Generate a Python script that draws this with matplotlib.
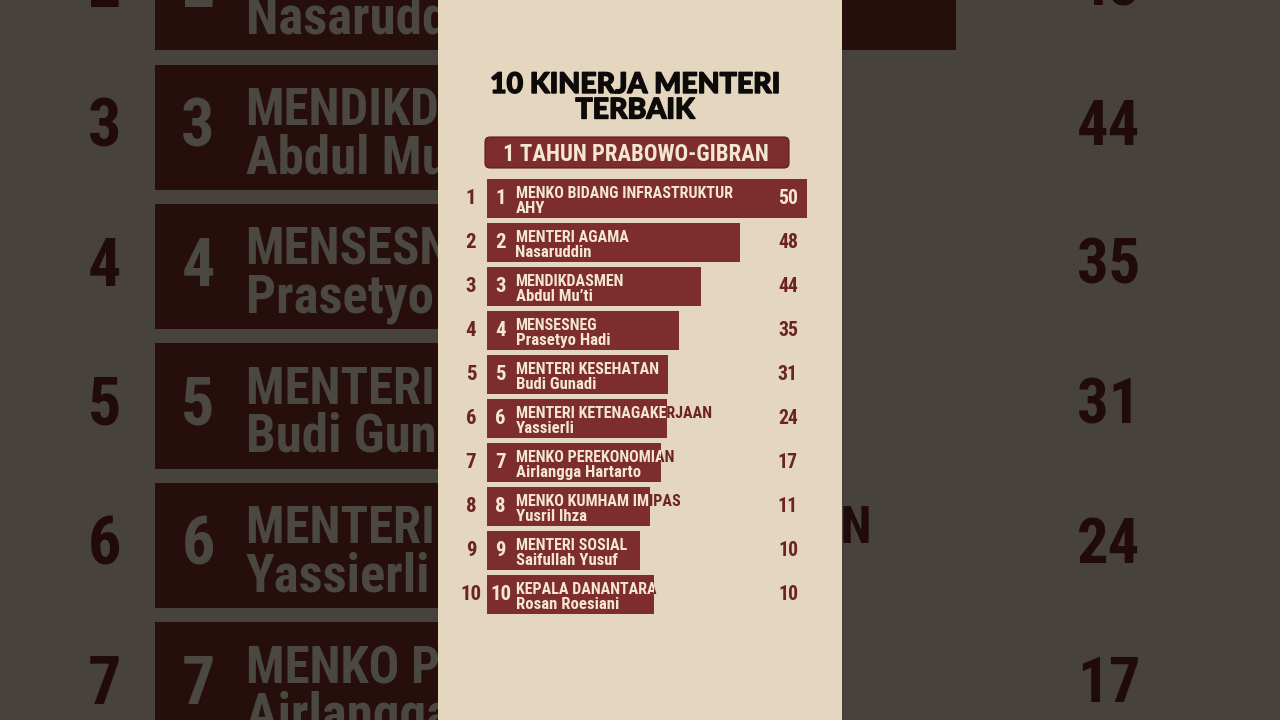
import matplotlib
matplotlib.use("Agg")
import matplotlib.pyplot as plt
import matplotlib.patheffects as pe
from matplotlib import font_manager as fm
from matplotlib.patches import FancyBboxPatch, Rectangle
from matplotlib.transforms import Affine2D

# ---------------- data ----------------
ranks = [1, 2, 3, 4, 5, 6, 7, 8, 9, 10]
positions = ["MENKO BIDANG INFRASTRUKTUR", "MENTERI AGAMA", "MENDIKDASMEN",
             "MENSESNEG", "MENTERI KESEHATAN", "MENTERI KETENAGAKERJAAN",
             "MENKO PEREKONOMIAN", "MENKO KUMHAM IMIPAS", "MENTERI SOSIAL",
             "KEPALA DANANTARA"]
names = ["AHY", "Nasaruddin", "Abdul Mu\u2019ti", "Prasetyo Hadi", "Budi Gunadi",
         "Yassierli", "Airlangga Hartarto", "Yusril Ihza", "Saifullah Yusuf",
         "Rosan Roesiani"]
scores = [50, 48, 44, 35, 31, 24, 17, 11, 10, 10]
# bar lengths as drawn in the graphic (score units; not proportional to scores)
bar_lengths = [50, 39.5, 33.4, 30.0, 28.3, 28.1, 27.2, 25.5, 23.9, 26.1]
title_lines = ["10 KINERJA MENTERI", "TERBAIK"]
subtitle = "1 TAHUN PRABOWO-GIBRAN"

# ---------------- style ----------------
BEIGE = "#E4D6BF"
MAROON = "#7C2D2C"
DARK = "#6C2422"
LIGHT = "#F3E6D2"
INK = "#0D0B0A"

W, H, DPI = 1280, 720, 100
X0, PXV = 487.0, 6.4      # pixel of value 0, pixels per score unit
Y0, PXR = 198.5, 44.0     # pixel of row 0 centre, pixels per row
S = 1280 / 404            # zoom of the darkened background copy


def _w(x):
    if isinstance(x, str):
        return fm.weight_dict.get(x, 400)
    return int(x)


def heaviest(families):
    best = ("DejaVu Sans", 700)
    for fam in families:
        ws = [_w(f.weight) for f in fm.fontManager.ttflist
              if f.name == fam and f.style == "normal"]
        if ws and max(ws) > best[1]:
            best = (fam, max(ws))
    return best


TITLE_FAM, TITLE_W = heaviest(["Lato", "Roboto", "Inter", "Open Sans", "Noto Sans"])
TITLE_FONT = [TITLE_FAM, "DejaVu Sans"]
COND_FONT = ["Roboto Condensed", "Liberation Sans Narrow", "Open Sans Condensed",
             "Roboto", "DejaVu Sans"]


def vx(px):
    return (px - X0) / PXV


def ry(py):
    return (py - Y0) / PXR


fig = plt.figure(figsize=(W / DPI, H / DPI), dpi=DPI)
fig.patch.set_facecolor("#46413A")
renderer = fig.canvas.get_renderer()


def fit(s, target_px, family, weight, stretch="normal", base=20.0):
    t = fig.text(0, 0, s, fontsize=base, family=family, weight=weight,
                 fontstretch=stretch)
    w = t.get_window_extent(renderer).width
    t.remove()
    return base * target_px / w


FS_TITLE = 20.5
FS_SUB = fit(subtitle, 266, COND_FONT, "bold", "condensed")
FS_L1 = fit(positions[0], 219, COND_FONT, "bold", "condensed")
FS_L2 = fit(names[6], 124, COND_FONT, "bold", "condensed")
FS_VAL = fit("48", 20, COND_FONT, "bold", "condensed")
FS_RANK = 15.0


def draw(ax, k):
    rows = list(range(len(ranks)))
    bars = ax.barh(rows, bar_lengths, height=39.5 / PXR, left=0, color=MAROON,
                   zorder=2, linewidth=0)
    ck = dict(family=COND_FONT, weight="bold", fontstretch="condensed")
    for i, bar in enumerate(bars):
        ax.text(vx(471), i + 6 / PXR, str(ranks[i]), ha="center", va="baseline",
                fontsize=FS_RANK * k, color=DARK, zorder=3, **ck)
        ax.text(vx(500.5), i + 6 / PXR, str(ranks[i]), ha="center", va="baseline",
                fontsize=FS_RANK * k, color=LIGHT, zorder=3, **ck)
        for col, z, clip in ((DARK, 1, False), (LIGHT, 3, True)):
            t1 = ax.text(vx(515.5), i - 0.5 / PXR, positions[i], ha="left",
                         va="baseline", fontsize=FS_L1 * k, color=col, zorder=z,
                         **ck)
            t2 = ax.text(vx(515.5), i + 14.5 / PXR, names[i], ha="left",
                         va="baseline", fontsize=FS_L2 * k, color=col, zorder=z,
                         **ck)
            t3 = ax.text(vx(798), i + 5.5 / PXR, str(scores[i]), ha="right",
                         va="baseline", fontsize=FS_VAL * k, color=col, zorder=z,
                         **ck)
            if clip:
                for t in (t1, t2, t3):
                    t.set_clip_on(True)
                    t.set_clip_path(bar)
    # title (a thin stroke thickens the glyphs toward the heavy display face)
    for line, base in zip(title_lines, (93, 118.5)):
        ax.text(vx(635), ry(base), line, ha="center", va="baseline",
                fontsize=FS_TITLE * k, color=INK, family=TITLE_FONT,
                weight=TITLE_W, zorder=3,
                path_effects=[pe.withStroke(linewidth=1.0 * k, foreground=INK)])
    # subtitle box, drawn in reference pixel units for even corner rounding
    px2data = Affine2D().translate(-X0, -Y0).scale(1 / PXV, 1 / PXR) + ax.transData
    box = FancyBboxPatch((485, 137), 304, 31,
                         boxstyle="round,pad=0,rounding_size=5",
                         facecolor=MAROON, edgecolor="#5E1C1B",
                         linewidth=0.8 * k, zorder=2, transform=px2data)
    ax.add_patch(box)
    ax.text(vx(635.5), ry(161), subtitle, ha="center", va="baseline",
            fontsize=FS_SUB * k, color=LIGHT, zorder=3, **ck)


# darkened, zoomed background copy
bg = fig.add_axes([0, 0, 1, 1])
bg.set_facecolor(BEIGE)
bg.set_xlim(vx(640 - 640 / S), vx(640 + 640 / S))
bg.set_ylim(ry(360 + 360 / S), ry(360 - 360 / S))
bg.axis("off")
bg.add_patch(Rectangle((0, 0), 1, 1, transform=bg.transAxes, facecolor=BEIGE,
                       zorder=0))
draw(bg, S)
bg.add_patch(Rectangle((0, 0), 1, 1, transform=bg.transAxes, facecolor="black",
                       alpha=0.69, zorder=10))

# central panel
fg = fig.add_axes([438 / W, 0, 404 / W, 1])
fg.set_facecolor(BEIGE)
fg.set_xlim(vx(438), vx(842))
fg.set_ylim(ry(720), ry(0))
fg.set_xticks([])
fg.set_yticks([])
for sp in fg.spines.values():
    sp.set_visible(False)
draw(fg, 1)

fig.savefig("out.png", dpi=DPI)
